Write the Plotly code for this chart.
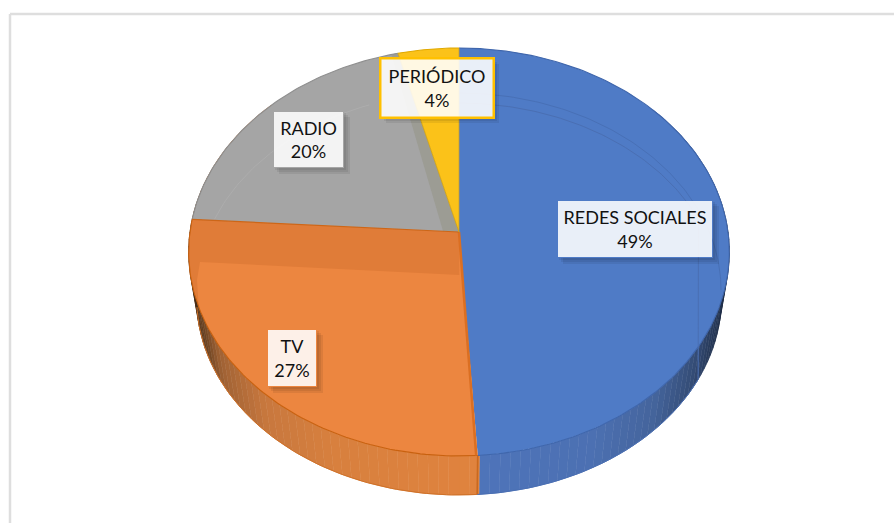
import numpy as np
import plotly.graph_objects as go

# Media share survey
categories = ["REDES SOCIALES", "TV", "RADIO", "PERIÓDICO"]
shares = [49, 27, 20, 4]
top_colors = ["#4F7BC6", "#EC8640", "#A5A5A5", "#FBC219"]
edge_colors = ["#3F66AC", "#C9610F", "#8F8F8F", "#E0A800"]

# Geometry of the tilted disc, in page pixels
W, H = 894, 523
CX, APEX_Y = 459.0, 232.0
RX_PROJ, RY_PROJ, TILT = 269.0, 202.0, 0.098
TOP_ELL = (459.0, 252.0, 270.0, 204.0)
LOW_ELL = (459.0, 299.0, 262.0, 196.0)
RING_ELL = (459.0, 290.0, 262.0, 197.0)


def rim(deg):
    """Project a rim angle (clockwise from twelve o'clock) on to the page."""
    t = np.radians(deg)
    px, py = np.sin(t), np.cos(t)
    w = 1 + TILT * py
    return CX + RX_PROJ * px / w, APEX_Y - RY_PROJ * py / w


def low(x, y):
    """Matching point of the disc's lower edge."""
    nx = (x - TOP_ELL[0]) / TOP_ELL[2]
    ny = (y - TOP_ELL[1]) / TOP_ELL[3]
    return LOW_ELL[0] + LOW_ELL[2] * nx, LOW_ELL[1] + LOW_ELL[3] * ny


def span(a, b, step=1.0):
    n = max(2, int(abs(b - a) / step) + 1)
    return np.linspace(a, b, n)


def poly(xs, ys, fill, line=None, width=0):
    return go.Scatter(
        x=list(xs), y=list(ys), mode="lines", fill="toself", fillcolor=fill,
        line=dict(color=line or fill, width=width), hoverinfo="skip", showlegend=False,
    )


def stroke(xs, ys, color, width=1.0):
    return go.Scatter(
        x=list(xs), y=list(ys), mode="lines", line=dict(color=color, width=width),
        hoverinfo="skip", showlegend=False,
    )


def shade(x, stops):
    xs, cols = zip(*stops)
    c = [np.interp(x, xs, [col[i] for col in cols]) for i in range(3)]
    return "rgb({:.0f},{:.0f},{:.0f})".format(*c)


cum = np.cumsum([0] + shares) / sum(shares) * 360.0
fig = go.Figure()

# Side wall, shaded strip by strip towards the silhouette
blue_stops = [(477, (78, 116, 186)), (590, (76, 112, 178)), (650, (68, 100, 156)),
              (690, (52, 76, 118)), (715, (34, 50, 78)), (727, (24, 34, 54))]
orange_stops = [(192, (56, 36, 20)), (205, (96, 60, 30)), (225, (160, 98, 52)),
                (270, (200, 120, 62)), (340, (216, 128, 62)), (477, (224, 131, 62))]
for a in np.arange(50.0, 312.0, 2.0):
    b = a + 2.0
    ts = span(a, b, 0.5)
    x1, y1 = rim(ts)
    x2, y2 = low(x1, y1)
    mid = (a + b) / 2
    stops = blue_stops if mid < cum[1] else orange_stops
    col = shade(float(np.mean(x2)), stops)
    fig.add_trace(poly(np.r_[x1, x2[::-1]], np.r_[y1, y2[::-1]], col, col, 0.8))

# Where the two front slices meet on the wall
bx, by = rim(cum[1])
lx, ly = low(bx, by)
fig.add_trace(stroke([bx, lx], [by, ly], "#C9691F", 1.6))

# Slice tops
for i in range(len(shares)):
    ts = span(cum[i], cum[i + 1])
    x, y = rim(ts)
    fig.add_trace(poly(np.r_[CX, x, CX], np.r_[APEX_Y, y, APEX_Y], top_colors[i]))

# Darker inner wall on the radio slice, beside the yellow wedge
wx, wy = rim(cum[3])
wx2, wy2 = rim(cum[3] - 1.6)
fig.add_trace(poly([443, CX, wx, wx2], [231, APEX_Y, wy, wy2], "#9C9C94"))

# Darker band on the TV slice, under its upper edge
t_end = cum[2]
t_low = 249.0
tb = span(t_low, t_end)
x, y = rim(tb)
fig.add_trace(poly(np.r_[x, CX, CX + 0.3, 200, 197],
                   np.r_[y, APEX_Y, 275, 262, 280], "#E07C38"))

# Faint lower edge seen through the top face
ring = lambda s: (RING_ELL[0] + RING_ELL[2] * np.sin(np.radians(s)),
                  RING_ELL[1] - RING_ELL[3] * np.cos(np.radians(s)))
xr, yr = ring(span(0, 90))
fig.add_trace(stroke(xr, yr, "#4870B6", 1.0))
xr, yr = ring(span(291, 340))
fig.add_trace(stroke(xr, yr, "#ADADAD", 1.0))

# Outlines of the slices
for i in range(len(shares)):
    x, y = rim(span(cum[i], cum[i + 1]))
    fig.add_trace(stroke(x, y, edge_colors[i], 1.1))
x1, y1 = rim(span(cum[0], cum[1]))
x2, y2 = low(x1, y1)
fig.add_trace(stroke(x2[x2 < 700], y2[x2 < 700], "#4A6FB3", 1.0))
x1, y1 = rim(span(cum[1], 262))
x2, y2 = low(x1, y1)
fig.add_trace(stroke(x2, y2, "#CF7128", 1.0))

ox, oy = rim(cum[1])
fig.add_trace(stroke([CX, ox - 1.5], [APEX_Y, oy], "#DB6F22", 2.6))
ox, oy = rim(cum[2])
fig.add_trace(stroke([CX, ox], [APEX_Y, oy], "#CC6618", 1.2))
for k in (0, 3):
    ox, oy = rim(cum[k])
    fig.add_trace(stroke([CX, ox], [APEX_Y, oy], "#D9A400" if k == 3 else "#C9A02A", 0.8))

# Value labels: centre x, centre y, box width, box height, fill, border
label_boxes = [
    (635, 229, 156, 58, "rgba(255,255,255,0.88)", None),
    (292, 358, 50, 58, "rgba(255,255,255,0.88)", None),
    (308.5, 139.5, 71, 57, "rgba(255,255,255,0.87)", None),
    (436.5, 87.5, 113, 59, "rgba(255,255,255,0.88)", "#FFC000"),
]
shapes = [
    dict(type="line", x0=10, x1=10, y0=14, y1=H, line=dict(color="#DEDEDE", width=2.5)),
    dict(type="line", x0=10, x1=W, y0=14, y1=14, line=dict(color="#DEDEDE", width=2.5)),
]
annotations = []
for (cx, cy, w, h, fill, border), name, val in zip(label_boxes, categories, shares):
    x0, x1, y0, y1 = cx - w / 2, cx + w / 2, cy - h / 2, cy + h / 2
    for off in (2, 4, 6):
        shapes.append(dict(type="rect", x0=x1, x1=x1 + off, y0=y0 + off, y1=y1 + off,
                           fillcolor="rgba(0,0,0,0.07)", line_width=0))
        shapes.append(dict(type="rect", x0=x0 + off, x1=x1, y0=y1, y1=y1 + off,
                           fillcolor="rgba(0,0,0,0.07)", line_width=0))
    annotations.append(dict(
        x=cx, y=cy, xref="x", yref="y", showarrow=False, xanchor="center", yanchor="middle",
        text=f"{name}<br>{val}%", align="center", width=w - 2, height=h - 2, valign="middle",
        bgcolor=fill, bordercolor=border or "rgba(0,0,0,0)", borderwidth=2.5 if border else 0,
        borderpad=0, font=dict(family="Lato, Carlito, sans-serif", size=18, color="#111111"),
    ))

fig.update_layout(
    width=W, height=H, margin=dict(l=0, r=0, t=0, b=0),
    paper_bgcolor="white", plot_bgcolor="white", showlegend=False,
    xaxis=dict(range=[0, W], visible=False, fixedrange=True),
    yaxis=dict(range=[H, 0], visible=False, fixedrange=True),
    shapes=shapes, annotations=annotations,
)
fig.write_html("out.html", config={"displayModeBar": False})
